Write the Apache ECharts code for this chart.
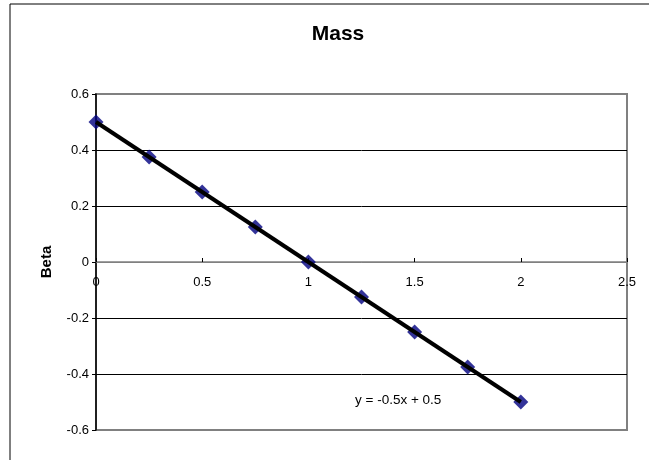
<!DOCTYPE html>
<html lang="en">
<head>
    <meta charset="UTF-8">
    <title>Mass</title>
    <script src="https://cdn.jsdelivr.net/npm/echarts@6/dist/echarts.min.js"></script>
    <style>
        html, body { margin: 0; padding: 0; background: #fff; }
        #chart { width: 649px; height: 460px; }
    </style>
</head>
<body>
    <div id="chart"></div>
</body>
<script>
    // data
    var xValues = [0, 0.25, 0.5, 0.75, 1, 1.25, 1.5, 1.75, 2];
    var betaValues = [0.5, 0.375, 0.25, 0.125, 0, -0.125, -0.25, -0.375, -0.5];
    var trendX = [0, 2];
    var trendY = [0.5, -0.5];
    var trendText = "y = -0.5x + 0.5";

    var font = "Liberation Sans, Arial, sans-serif";

    var points = xValues.map(function (x, i) { return [x, betaValues[i]]; });
    var trendPoints = trendX.map(function (x, i) { return [x, trendY[i]]; });

    var chart = echarts.init(document.getElementById("chart"));
    var option = {
        animation: false,
        backgroundColor: "#fff",
        title: {
            text: "Mass",
            left: 333,
            top: 19,
            textAlign: "center",
            textStyle: { fontFamily: font, fontSize: 21, fontWeight: "bold", color: "#000" }
        },
        grid: {
            left: 96,
            top: 94,
            right: 22,
            bottom: 30,
            show: true,
            borderColor: "#808080",
            borderWidth: 2
        },
        xAxis: {
            type: "value",
            min: 0,
            max: 2.5,
            interval: 0.5,
            position: "bottom",
            // x axis crosses at beta = 0, i.e. halfway up the plot
            offset: -168,
            axisLine: { show: true, onZero: false, lineStyle: { color: "#808080", width: 1.5 } },
            axisTick: { show: true, inside: true, length: 4, lineStyle: { color: "#000" } },
            axisLabel: {
                margin: 14,
                fontFamily: font,
                fontSize: 13,
                color: "#000",
                formatter: function (v) { return String(v); }
            },
            splitLine: { show: false }
        },
        yAxis: {
            type: "value",
            name: "Beta",
            nameLocation: "middle",
            nameGap: 42,
            nameTextStyle: { fontFamily: font, fontSize: 15, fontWeight: "bold", color: "#000" },
            min: -0.6,
            max: 0.6,
            interval: 0.2,
            axisLine: { show: true, lineStyle: { color: "#000", width: 1.5 } },
            axisTick: { show: true, length: 4, lineStyle: { color: "#000" } },
            axisLabel: {
                margin: 7,
                fontFamily: font,
                fontSize: 13,
                color: "#000",
                formatter: function (v) { return String(Math.round(v * 10) / 10); }
            },
            splitLine: {
                show: true,
                lineStyle: {
                    color: ["#808080", "#000", "#000", "#808080", "#000", "#000", "#808080"],
                    width: 1
                }
            }
        },
        graphic: [{
            type: "rect",
            shape: { x: 10, y: 4, width: 700, height: 500 },
            style: { fill: null, stroke: "#000", lineWidth: 1 },
            silent: true,
            z: -10
        }, {
            type: "text",
            left: 355,
            top: 393,
            style: { text: trendText, font: "13.5px " + font, fill: "#000" }
        }],
        series: [{
            name: "Beta",
            type: "scatter",
            symbol: "diamond",
            symbolSize: 15,
            itemStyle: { color: "#000080" },
            data: points,
            z: 2
        }, {
            name: "Trend",
            type: "line",
            showSymbol: false,
            symbol: "none",
            lineStyle: { color: "#000", width: 4 },
            data: trendPoints,
            z: 3
        }]
    };
    chart.setOption(option);
</script>
</html>
